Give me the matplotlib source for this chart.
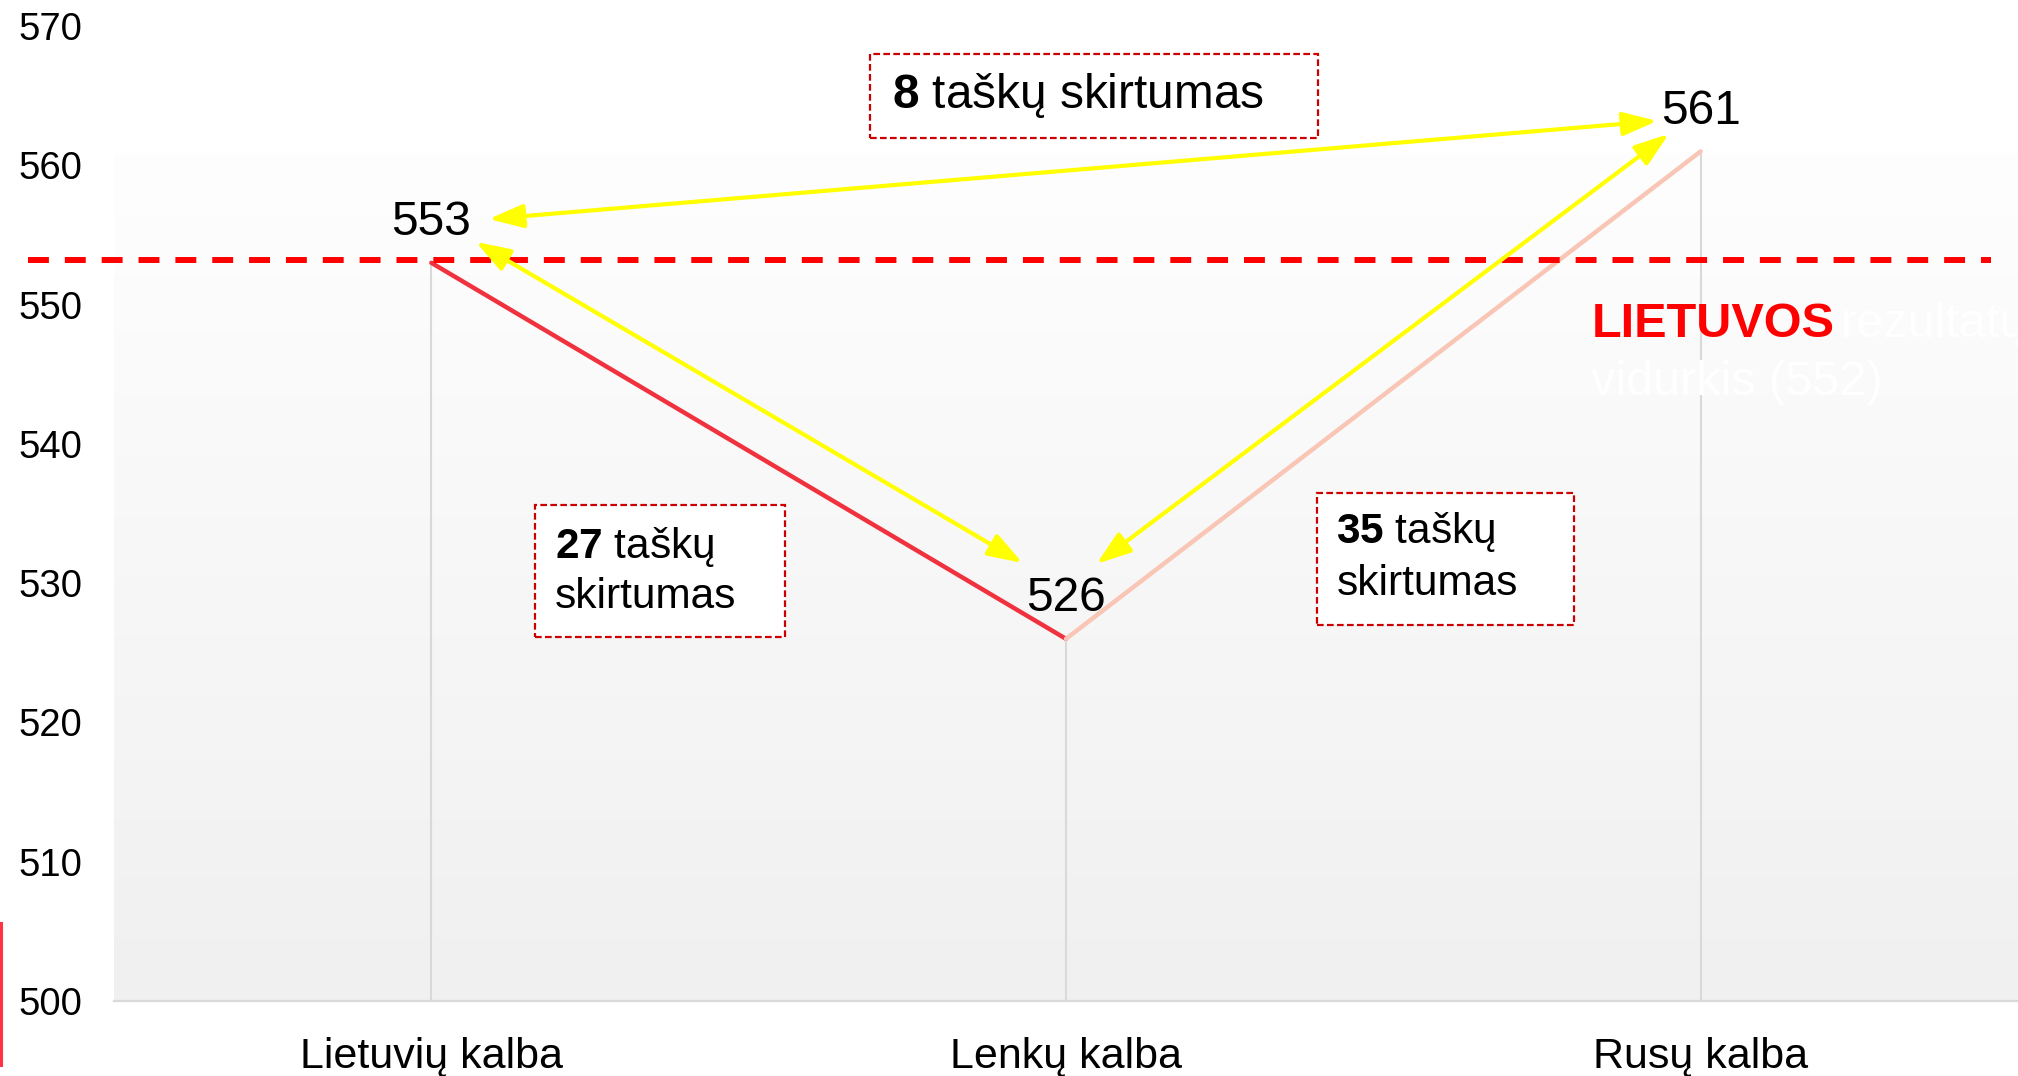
import numpy as np
import matplotlib.pyplot as plt
from matplotlib.colors import LinearSegmentedColormap
from matplotlib.patches import FancyArrowPatch, Rectangle
from matplotlib.lines import Line2D

plt.rcParams['font.family'] = ['Liberation Sans', 'DejaVu Sans']
plt.rcParams['mathtext.fontset'] = 'custom'
plt.rcParams['mathtext.rm'] = 'Liberation Sans'
plt.rcParams['mathtext.bf'] = 'Liberation Sans:bold'

# data
categories = ['Lietuvių kalba', 'Lenkų kalba', 'Rusų kalba']
scores = [553, 526, 561]
y_ticks = [500, 510, 520, 530, 540, 550, 560, 570]
lt_average = 553.2
gap_values = [8, 27, 35]

x = np.arange(len(categories))

fig = plt.figure(figsize=(20.18, 10.76), dpi=100)
ax = fig.add_axes([114 / 2018, 75 / 1076, 1 - 114 / 2018, 975 / 1076])
ax.set_xlim(-0.5, 2.5)
ax.set_ylim(500, 570)

# background gradient (white at top -> light gray at bottom)
cmap = LinearSegmentedColormap.from_list('bg', ['#f0f0f0', '#fefefe'])
grad = np.linspace(0, 1, 256).reshape(-1, 1)
ax.imshow(grad, cmap=cmap, origin='lower', aspect='auto',
          extent=(-0.5, 2.5, 500, 560.9), zorder=0)

# drop lines
for xi, s in zip(x, scores):
    ax.plot([xi, xi], [500, s], color='#d9d9d9', lw=1.5, zorder=1)

# score lines
ax.plot(x[:2], scores[:2], color='#f0323e', lw=3.2, solid_capstyle='round', zorder=3)
ax.plot(x[1:], scores[1:], color='#f9c6b6', lw=3.2, solid_capstyle='round', zorder=3)

# value labels
for xi, s in zip(x, scores):
    ax.annotate(str(s), (xi, s), xytext=(0, 20), textcoords='offset points',
                ha='center', va='baseline', fontsize=34.5, color='black', zorder=5)

# national average dashed line
ax.plot([-0.635, 2.4575], [lt_average, lt_average], color='#ff0000', lw=4.3,
        dashes=(3.5, 2.67), clip_on=False, zorder=4)

ax.text(1.8276, 547.67, 'LIETUVOS', color='#ff0000', fontsize=35,
        fontweight='bold', ha='left', va='baseline', zorder=5)
ax.text(2.221, 547.67, 'rezultatų', color='#ffffff', fontsize=35,
        ha='left', va='baseline', zorder=5, clip_on=False)
ax.text(1.8276, 543.51, 'vidurkis (552)', color='#ffffff', fontsize=35,
        ha='left', va='baseline', zorder=5)

# yellow double arrows
arrows = [
    ((0.0906, 556.14), (1.9315, 563.18)),
    ((0.070, 554.5), (0.9315, 531.45)),
    ((1.048, 531.38), (1.950, 562.25)),
]
for a, b in arrows:
    ax.add_patch(FancyArrowPatch(a, b, arrowstyle='<|-|>,head_length=1.05,head_width=0.36',
                                 mutation_scale=20, color='#ffff00', lw=3.0,
                                 shrinkA=0, shrinkB=0, zorder=6))

# dashed boxes with gap texts
boxes = [
    (0.6906, 561.96, 1.3976, 567.99),
    (0.163, 526.14, 0.5567, 535.61),
    (1.396, 527.0, 1.8008, 536.48),
]
for x0, y0, x1, y1 in boxes:
    ax.add_patch(Rectangle((x0, y0), x1 - x0, y1 - y0, facecolor='white',
                           edgecolor='#cc0000', lw=1.6, linestyle=(0, (3, 1.5)),
                           zorder=4))

ax.text(0.7252, 564.11, r'$\mathbf{%d}$ taškų skirtumas' % gap_values[0],
        fontsize=34.4, ha='left', va='baseline', zorder=5)
ax.text(0.1945, 531.81, r'$\mathbf{%d}$ taškų' % gap_values[1],
        fontsize=30.5, ha='left', va='baseline', zorder=5)
ax.text(0.1945, 528.22, 'skirtumas',
        fontsize=30.5, ha='left', va='baseline', zorder=5)
ax.text(1.426, 532.89, r'$\mathbf{%d}$ taškų' % gap_values[2],
        fontsize=30.5, ha='left', va='baseline', zorder=5)
ax.text(1.426, 529.15, 'skirtumas',
        fontsize=30.5, ha='left', va='baseline', zorder=5)

# axes styling
for side in ['top', 'right', 'left']:
    ax.spines[side].set_visible(False)
ax.spines['bottom'].set_color('#d9d9d9')
ax.spines['bottom'].set_linewidth(1.6)
ax.spines['bottom'].set_zorder(2)

ax.set_yticks(y_ticks)
ax.set_xticks(x)
ax.set_xticklabels(categories)
ax.tick_params(axis='y', length=0, pad=69, labelsize=27.5)
ax.tick_params(axis='x', length=0, pad=26, labelsize=31)
for lbl in ax.get_yticklabels():
    lbl.set_horizontalalignment('left')

# small red bar on left edge
fig.add_artist(Line2D([1 / 2018, 1 / 2018], [(1076 - 1065) / 1076, (1076 - 923) / 1076],
                      color='#ff3344', lw=2.2))

fig.savefig('out.png', dpi=100)
